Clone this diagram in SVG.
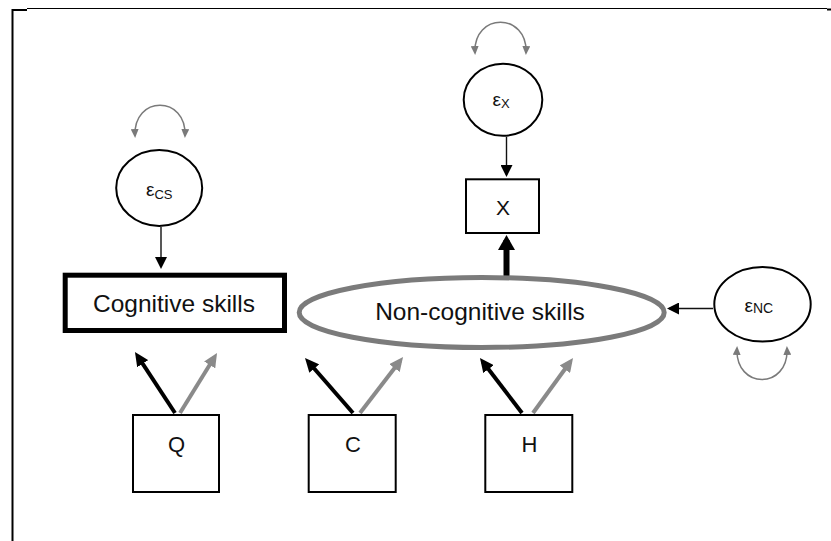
<svg xmlns="http://www.w3.org/2000/svg" width="831" height="541" viewBox="0 0 831 541">
<style>
  .lbl { font-family: "Liberation Sans", Arial, sans-serif; fill: #111; }
  .box { fill: #fff; stroke: #000; stroke-width: 2; }
  .err { fill: #fff; stroke: #000; stroke-width: 2; }
  .thin { stroke: #111; stroke-width: 1.4; fill: none; }
  .blk { stroke: #000; stroke-width: 4; fill: none; }
  .gry { stroke: #8a8a8a; stroke-width: 4; fill: none; }
  .arc { stroke: #7a7a7a; stroke-width: 1.5; fill: none; }
</style>
<defs>
  <marker id="hThin" markerUnits="userSpaceOnUse" viewBox="0 0 12 12" refX="10" refY="6" markerWidth="12" markerHeight="12" orient="auto">
    <path d="M0,0 L12,6 L0,12 z" fill="#000"/>
  </marker>
  <marker id="hBlk" markerUnits="userSpaceOnUse" viewBox="0 0 14 13" refX="9" refY="6.5" markerWidth="14" markerHeight="13" orient="auto">
    <path d="M0,0 L14,6.5 L0,13 z" fill="#000"/>
  </marker>
  <marker id="hGry" markerUnits="userSpaceOnUse" viewBox="0 0 14 13" refX="9" refY="6.5" markerWidth="14" markerHeight="13" orient="auto">
    <path d="M0,0 L14,6.5 L0,13 z" fill="#8a8a8a"/>
  </marker>
  <marker id="hBig" markerUnits="userSpaceOnUse" viewBox="0 0 15 17" refX="10" refY="8.5" markerWidth="15" markerHeight="17" orient="auto">
    <path d="M0,0 L15,8.5 L0,17 z" fill="#000"/>
  </marker>
  <marker id="hArc" markerUnits="userSpaceOnUse" viewBox="0 0 9 8" refX="7" refY="4" markerWidth="9" markerHeight="8" orient="auto-start-reverse">
    <path d="M0,0 L9,4 L0,8 z" fill="#7a7a7a"/>
  </marker>
</defs>

<g id="frame">
  <line x1="27" y1="8.5" x2="827" y2="8.5" stroke="#000" stroke-width="1.2"/>
  <path d="M12.5,541 V10 H27" stroke="#000" stroke-width="2" fill="none"/>
  <line x1="827" y1="9.5" x2="831" y2="9.5" stroke="#000" stroke-width="2"/>
</g>

<g id="connectors">
  <line class="thin" x1="161" y1="227" x2="161" y2="267" marker-end="url(#hThin)"/>
  <line class="thin" x1="506.5" y1="137" x2="506.5" y2="175" marker-end="url(#hThin)"/>
  <line class="thin" x1="713" y1="308.5" x2="669" y2="308.5" marker-end="url(#hThin)"/>
  <line x1="506.5" y1="277" x2="506.5" y2="240" stroke="#000" stroke-width="6" marker-end="url(#hBig)"/>
  <line class="blk" x1="175" y1="413" x2="137.7" y2="356.2" marker-end="url(#hBlk)"/>
  <line class="gry" x1="180" y1="413" x2="214.4" y2="357.3" marker-end="url(#hGry)"/>
  <line class="blk" x1="353" y1="413" x2="308.3" y2="361.8" marker-end="url(#hBlk)"/>
  <line class="gry" x1="360" y1="413" x2="400" y2="361" marker-end="url(#hGry)"/>
  <line class="blk" x1="522" y1="413" x2="483" y2="362" marker-end="url(#hBlk)"/>
  <line class="gry" x1="533" y1="413" x2="570.1" y2="362" marker-end="url(#hGry)"/>
  <path class="arc" d="M135,136 C133,95 187,95 185,136" marker-start="url(#hArc)" marker-end="url(#hArc)"/>
  <path class="arc" d="M475,53 C473,12 528,12 526,53" marker-start="url(#hArc)" marker-end="url(#hArc)"/>
  <path class="arc" d="M737,348 C735,390 789,390 787,348" marker-start="url(#hArc)" marker-end="url(#hArc)"/>
</g>

<g id="e_cs">
  <ellipse class="err" cx="159.2" cy="188" rx="43" ry="38"/>
  <text class="lbl" x="146" y="196" font-size="19">ε<tspan font-size="13" dy="2.5">CS</tspan></text>
</g>

<g id="cognitive">
  <rect x="65.2" y="275.2" width="219.3" height="55.3" fill="#fff" stroke="#000" stroke-width="5"/>
  <text class="lbl" x="174" y="312" font-size="24.5" text-anchor="middle">Cognitive skills</text>
</g>

<g id="e_x">
  <ellipse class="err" cx="503" cy="99.7" rx="39.3" ry="36"/>
  <text class="lbl" x="492.5" y="106" font-size="19">ε<tspan font-size="13" dy="1.5">X</tspan></text>
</g>

<g id="x">
  <rect class="box" x="466" y="179.3" width="73" height="53.7"/>
  <text class="lbl" x="503" y="215" font-size="21" text-anchor="middle">X</text>
</g>

<g id="noncognitive">
  <ellipse cx="481.7" cy="312.5" rx="182.5" ry="35" fill="#fff" stroke="#7b7b7b" stroke-width="5"/>
  <text class="lbl" x="480" y="320" font-size="24.5" text-anchor="middle">Non-cognitive skills</text>
</g>

<g id="e_nc">
  <ellipse class="err" cx="762.5" cy="304.3" rx="48.2" ry="37.3"/>
  <text class="lbl" x="744.5" y="311.5" font-size="19">ε<tspan font-size="14" dy="1">NC</tspan></text>
</g>

<g id="q">
  <rect class="box" x="133" y="415" width="86" height="77"/>
  <text class="lbl" x="176.5" y="452" font-size="22" text-anchor="middle">Q</text>
</g>

<g id="c">
  <rect class="box" x="308.7" y="415" width="87" height="77"/>
  <text class="lbl" x="353" y="452" font-size="22" text-anchor="middle">C</text>
</g>

<g id="h">
  <rect class="box" x="485.3" y="415" width="87" height="77"/>
  <text class="lbl" x="529.5" y="452" font-size="22" text-anchor="middle">H</text>
</g>
</svg>
